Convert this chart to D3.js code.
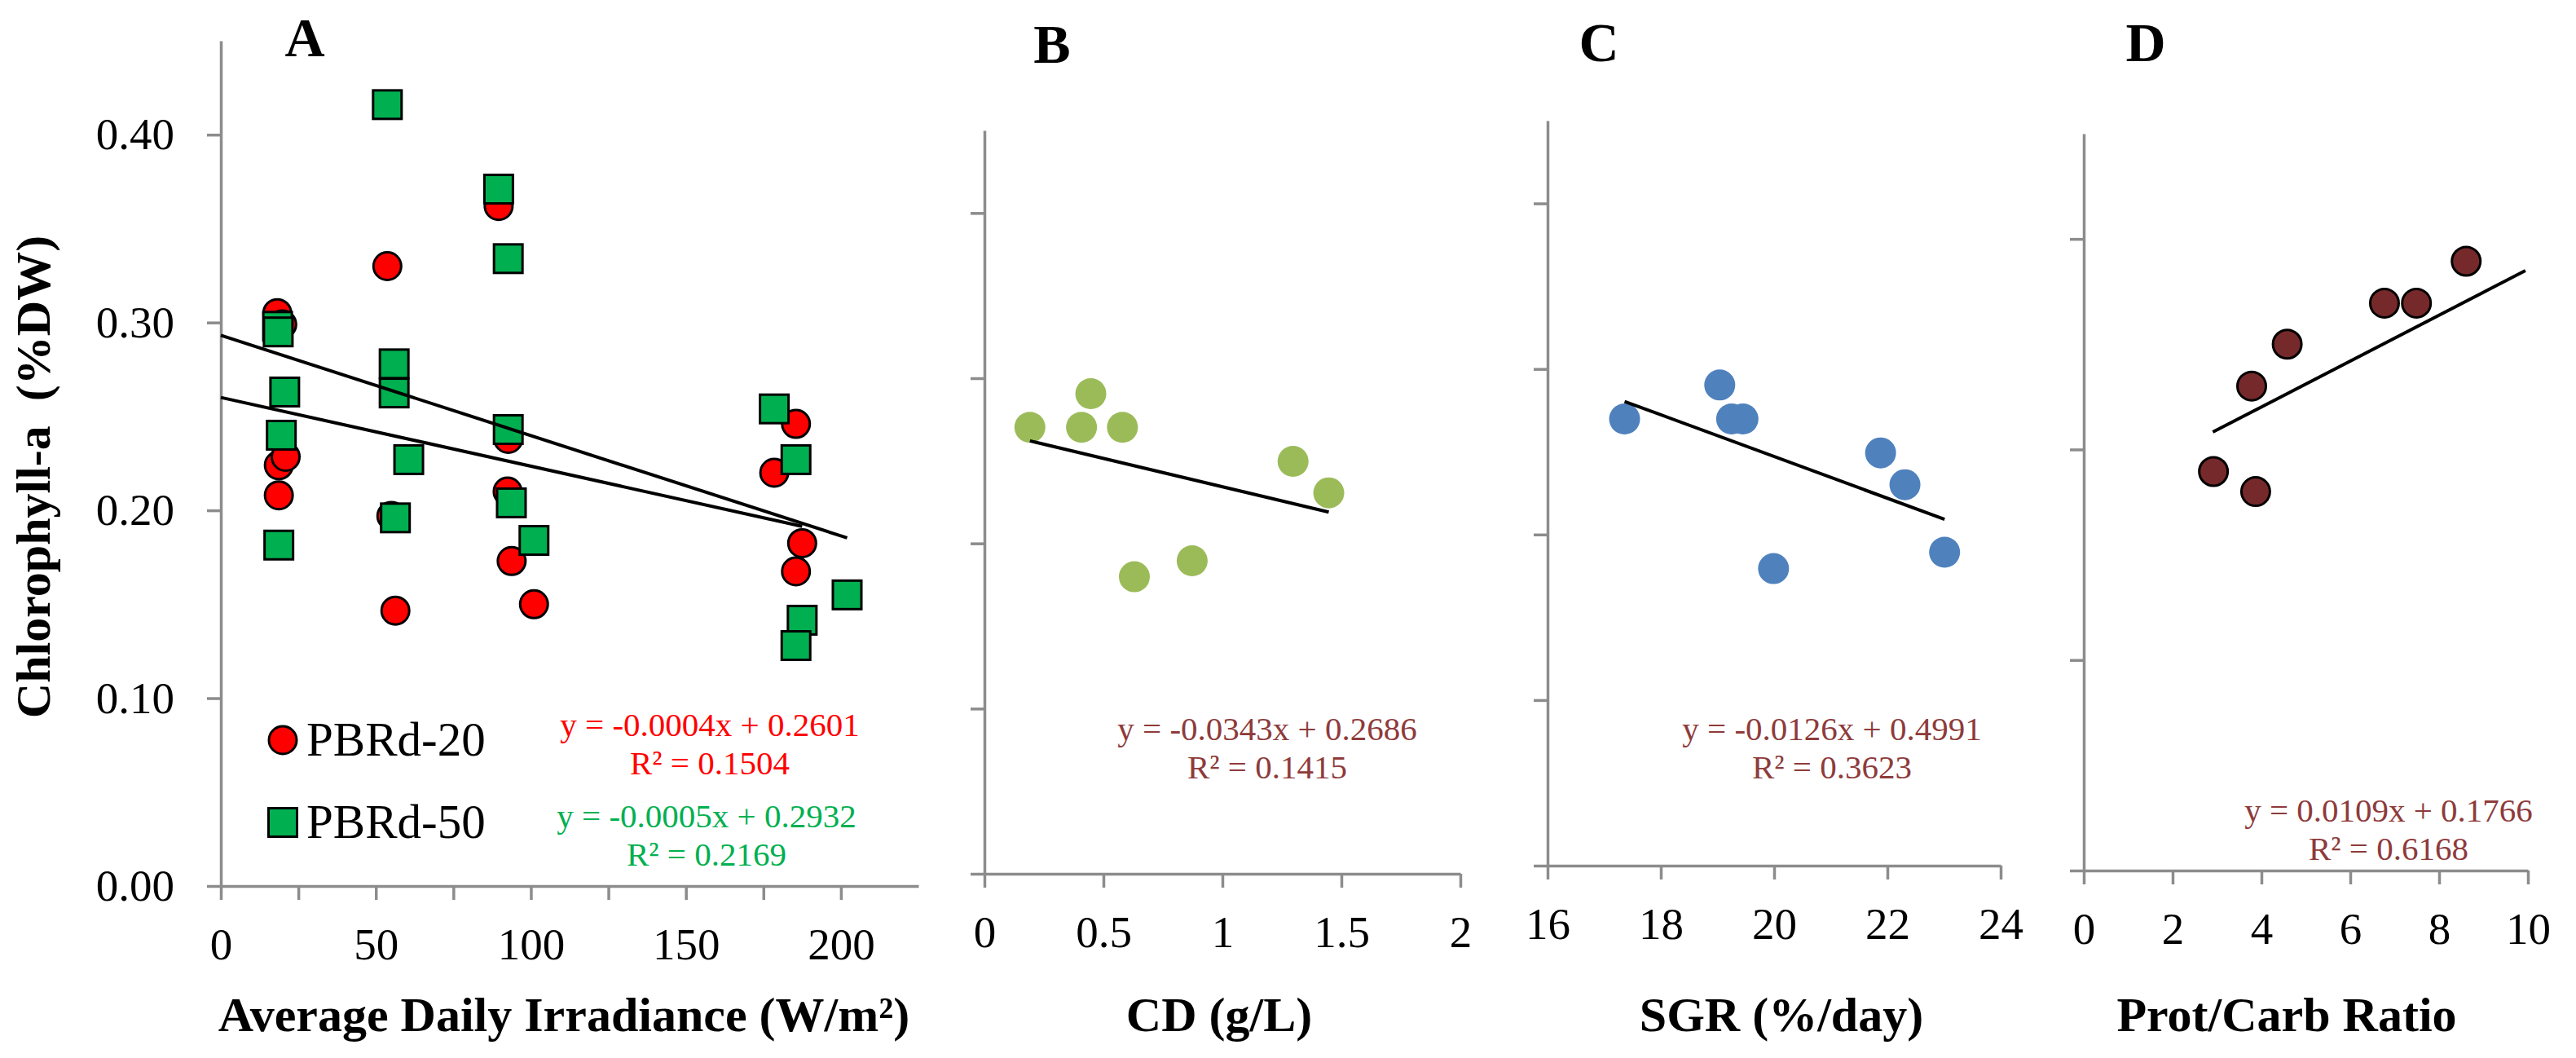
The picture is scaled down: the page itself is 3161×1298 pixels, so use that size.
<!DOCTYPE html>
<html>
<head>
<meta charset="utf-8">
<script src="https://cdn.jsdelivr.net/npm/d3@7"></script>
<style>
  body { margin: 0; background: #fff; }
  svg { display: block; font-family: "Liberation Serif", "Times New Roman", serif; }
</style>
</head>
<body>
<svg id="chart" width="3161" height="1298"></svg>
<script>
// ---- data ----
// panel A: irradiance (W/m2) vs chlorophyll-a (%DW)
const irr20 = [89.6, 53.7, 18.2, 19.8, 92.7, 18.7, 20.9, 18.7, 92.5, 93.8, 101, 185.5, 178.5, 187.5, 185.5, 55.0, 56.3];
const chl20 = [0.362, 0.330, 0.305, 0.299, 0.238, 0.224, 0.2285, 0.208, 0.210, 0.173, 0.150, 0.246, 0.220, 0.1825, 0.1675, 0.197, 0.1466];
const irr50 = [53.7, 89.6, 92.7, 18.3, 18.5, 55.9, 55.9, 20.6, 19.5, 92.7, 60.6, 101, 178.5, 185.5, 202, 187.5, 185.5, 18.7, 56.3, 93.7];
const chl50 = [0.416, 0.371, 0.334, 0.298, 0.295, 0.278, 0.2625, 0.263, 0.240, 0.243, 0.227, 0.184, 0.254, 0.227, 0.155, 0.1415, 0.128, 0.1815, 0.196, 0.204];

// panel B: CD (g/L)
const cdX = [0.191, 0.447, 0.408, 0.580, 1.297, 1.447, 0.630, 0.873];
const cdY = [0.2703, 0.2906, 0.2703, 0.2703, 0.2497, 0.2306, 0.1798, 0.1895];

// panel C: SGR (%/day)
const sgrX = [17.36, 19.04, 19.25, 19.45, 21.88, 22.31, 19.99, 23.01];
const sgrY = [0.2698, 0.2903, 0.2698, 0.2698, 0.2493, 0.2301, 0.1794, 0.1893];

// panel D: protein / carbohydrate ratio
const pcX = [2.92, 3.87, 3.78, 4.58, 6.77, 7.49, 8.61];
const pcY = [0.1895, 0.1800, 0.2301, 0.2500, 0.2695, 0.2695, 0.2894];

// trendlines: A-20, A-50, B, C, D
const trendSlope = [-0.000366, -0.000534, -0.0343, -0.0126, 0.0109];
const trendIntercept = [0.2601, 0.2932, 0.2686, 0.4991, 0.1766];
const trendFrom = [0, 0, 0.191, 17.36, 2.906];
const trendTo = [187.5, 202, 1.447, 23.01, 9.943];
const eqLabels = ['y = -0.0004x + 0.2601', 'y = -0.0005x + 0.2932', 'y = -0.0343x + 0.2686', 'y = -0.0126x + 0.4991', 'y = 0.0109x + 0.1766'];
const r2Labels = ['R² = 0.1504', 'R² = 0.2169', 'R² = 0.1415', 'R² = 0.3623', 'R² = 0.6168'];

// axes
const xTicksA = [0, 25, 50, 75, 100, 125, 150, 175, 200];
const xTicksB = [0, 0.5, 1, 1.5, 2];
const xTicksC = [16, 18, 20, 22, 24];
const xTicksD = [0, 2, 4, 6, 8, 10];
const yTicks = [0, 0.1, 0.2, 0.3, 0.4];
const yTicksD = [0, 0.1, 0.2, 0.3];
const xTitles = ['Average Daily Irradiance (W/m²)', 'CD (g/L)', 'SGR (%/day)', 'Prot/Carb Ratio'];
const panelLetters = ['A', 'B', 'C', 'D'];
const seriesNames = ['PBRd-20', 'PBRd-50'];
const yTitle = 'Chlorophyll-a  (%DW)';

// ---- drawing ----
const AXIS_COL = '#8c8c8c';
const EQ_COL = '#8e3b3b';
const svg = d3.select('#chart');
svg.append('rect').attr('width', 3161).attr('height', 1298).attr('fill', '#fff');

function makePanel(p) {
  const x = d3.scaleLinear().domain(p.xDomain).range([p.left, p.right]);
  const y = d3.scaleLinear().domain(p.yDomain).range([p.bottom, p.top]);

  const yAxis = d3.axisLeft(y)
      .tickValues(p.yTicks)
      .tickSize(17).tickSizeOuter(0).tickPadding(40)
      .tickFormat(p.yLabels ? d3.format('.2f') : '');
  const xAxis = d3.axisBottom(x)
      .tickValues(p.xTicks)
      .tickSize(17).tickSizeOuter(0).tickPadding(34)
      .tickFormat(p.xFormat);

  const gy = svg.append('g').attr('transform', `translate(${p.left},0)`).call(yAxis);
  const gx = svg.append('g').attr('transform', `translate(0,${p.bottom})`).call(xAxis);
  for (const g of [gx, gy]) {
    g.select('.domain').attr('stroke', AXIS_COL).attr('stroke-width', 3.5);
    g.selectAll('.tick line').attr('stroke', AXIS_COL).attr('stroke-width', 3.5);
    g.selectAll('.tick text')
        .attr('fill', '#000').attr('font-size', 55)
        .attr('font-family', '"Liberation Serif", "Times New Roman", serif');
  }

  // x title
  svg.append('text')
      .attr('x', p.titleX).attr('y', 1265)
      .attr('text-anchor', 'middle')
      .attr('font-size', 60).attr('font-weight', 'bold')
      .text(p.title);

  // panel letter
  svg.append('text')
      .attr('x', p.letterX).attr('y', p.letterY)
      .attr('text-anchor', 'middle')
      .attr('font-size', 68).attr('font-weight', 'bold')
      .text(p.letter);

  return { x, y };
}

function trend(sc, i) {
  svg.append('line')
      .attr('x1', sc.x(trendFrom[i])).attr('y1', sc.y(trendIntercept[i] + trendSlope[i] * trendFrom[i]))
      .attr('x2', sc.x(trendTo[i])).attr('y2', sc.y(trendIntercept[i] + trendSlope[i] * trendTo[i]))
      .attr('stroke', '#000').attr('stroke-width', 4);
}

function eqLabel(i, cx, by, col) {
  const t = svg.append('g').attr('fill', col).attr('font-size', 41).attr('text-anchor', 'middle');
  t.append('text').attr('x', cx).attr('y', by).text(eqLabels[i]);
  t.append('text').attr('x', cx).attr('y', by + 47).text(r2Labels[i]);
}

function dots(sc, xs, ys, r, fill, stroke) {
  svg.append('g').selectAll('circle')
    .data(xs.map((v, i) => [v, ys[i]]))
    .join('circle')
      .attr('cx', d => sc.x(d[0])).attr('cy', d => sc.y(d[1]))
      .attr('r', r).attr('fill', fill)
      .attr('stroke', stroke || 'none').attr('stroke-width', 3);
}

// panel A
const scA = makePanel({
  xDomain: [0, 225], yDomain: [0, 0.45],
  left: 271, right: 1127, top: 50, bottom: 1087,
  xTicks: xTicksA, yTicks: yTicks, yLabels: true,
  xFormat: d => (d % 50 === 0 ? d : ''),
  title: xTitles[0], titleX: 692,
  letter: panelLetters[0], letterX: 374, letterY: 69
});
dots(scA, irr20, chl20, 17, '#ff0000', '#000');
const SQ = 35;
svg.append('g').selectAll('rect')
  .data(irr50.map((v, i) => [v, chl50[i]]))
  .join('rect')
    .attr('x', d => scA.x(d[0]) - SQ / 2).attr('y', d => scA.y(d[1]) - SQ / 2)
    .attr('width', SQ).attr('height', SQ)
    .attr('fill', '#00b050').attr('stroke', '#000').attr('stroke-width', 3);
trend(scA, 0);
trend(scA, 1);
eqLabel(0, 871, 903, '#ff0000');
eqLabel(1, 867, 1015, '#00b050');

// legend
const leg = svg.append('g');
leg.append('circle').attr('cx', 347).attr('cy', 908).attr('r', 17)
    .attr('fill', '#ff0000').attr('stroke', '#000').attr('stroke-width', 3);
leg.append('rect').attr('x', 347 - SQ / 2).attr('y', 1009 - SQ / 2).attr('width', SQ).attr('height', SQ)
    .attr('fill', '#00b050').attr('stroke', '#000').attr('stroke-width', 3);
leg.append('text').attr('x', 376).attr('y', 927).attr('font-size', 59).text(seriesNames[0]);
leg.append('text').attr('x', 376).attr('y', 1028).attr('font-size', 59).text(seriesNames[1]);

// y title
svg.append('text')
    .attr('transform', 'translate(61,585) rotate(-90)')
    .attr('text-anchor', 'middle')
    .style('white-space', 'pre')
    .attr('font-size', 60).attr('font-weight', 'bold')
    .text(yTitle);

// panel B
const scB = makePanel({
  xDomain: [0, 2], yDomain: [0, 0.45],
  left: 1208, right: 1792, top: 160, bottom: 1072,
  xTicks: xTicksB, yTicks: yTicks, yLabels: false,
  xFormat: d3.format('~g'),
  title: xTitles[1], titleX: 1496,
  letter: panelLetters[1], letterX: 1291, letterY: 77
});
dots(scB, cdX, cdY, 19, '#9bbb59');
trend(scB, 2);
eqLabel(2, 1555, 908, EQ_COL);

// panel C
const scC = makePanel({
  xDomain: [16, 24], yDomain: [0, 0.45],
  left: 1899, right: 2455, top: 148, bottom: 1062,
  xTicks: xTicksC, yTicks: yTicks, yLabels: false,
  xFormat: d3.format('~g'),
  title: xTitles[2], titleX: 2186,
  letter: panelLetters[2], letterX: 1962, letterY: 75
});
dots(scC, sgrX, sgrY, 19, '#4f81bd');
trend(scC, 3);
eqLabel(3, 2248, 908, EQ_COL);

// panel D
const scD = makePanel({
  xDomain: [0, 10], yDomain: [0, 0.35],
  left: 2557, right: 3102, top: 164, bottom: 1068,
  xTicks: xTicksD, yTicks: yTicksD, yLabels: false,
  xFormat: d3.format('~g'),
  title: xTitles[3], titleX: 2806,
  letter: panelLetters[3], letterX: 2633, letterY: 75
});
dots(scD, pcX, pcY, 17.5, '#76292a', '#000');
trend(scD, 4);
eqLabel(4, 2931, 1008, EQ_COL);
</script>
</body>
</html>
